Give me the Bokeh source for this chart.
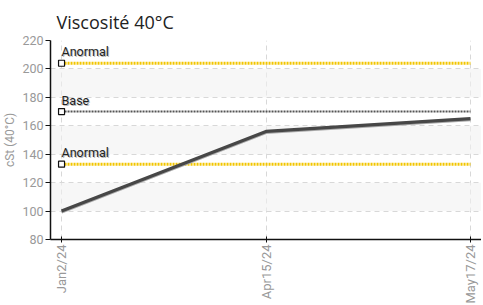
from bokeh.plotting import figure
from bokeh.embed import file_html
from bokeh.resources import INLINE
from bokeh.models import Range1d, FixedTicker, ColumnDataSource
from bokeh.core.properties import value

# data
dates = ["Jan2/24", "Apr15/24", "May17/24"]
viscosity = [100, 156, 165]
limit_names = ["Anormal", "Base", "Anormal"]
limit_values = [204, 170, 133]
limit_colors = ["#f2c500", "#555555", "#f2c500"]

FONT = "Roboto"

xs = list(range(len(dates)))

p = figure(frame_width=431, frame_height=199, output_backend="svg", toolbar_location=None,
           x_range=Range1d(-0.054, 2.054), y_range=Range1d(80, 220),
           title="Viscosité 40°C", min_border_left=44, min_border_right=0,
           min_border_top=0, min_border_bottom=0)
p.outline_line_color = None
p.title.text_font = "Open Sans"
p.title.text_font_size = "18px"
p.title.text_font_style = "normal"
p.title.text_color = "#222222"
p.title.offset = 6
p.title.standoff = 14

# grid
p.xgrid.grid_line_color = "#d8d8d8"
p.xgrid.grid_line_dash = "5 4"
p.ygrid.grid_line_color = "#d8d8d8"
p.ygrid.grid_line_dash = "5 4"
p.ygrid.band_fill_color = "#f2f2f2"
p.ygrid.band_fill_alpha = 0.6

# axes
p.xaxis.ticker = FixedTicker(ticks=xs)
p.xaxis.major_label_overrides = {i: d for i, d in enumerate(dates)}
p.xaxis.major_label_orientation = 1.5708
p.yaxis.ticker = FixedTicker(ticks=list(range(80, 221, 20)))
for ax in (p.xaxis, p.yaxis):
    ax.axis_line_color = "#111111"
    ax.axis_line_width = 1.5
    ax.major_tick_line_color = "#111111"
    ax.minor_tick_line_color = None
    ax.major_label_text_color = "#999999"
    ax.major_label_text_font = FONT
    ax.major_label_text_font_size = "13px"
    ax.major_label_standoff = 2
p.yaxis.major_label_text_font_size = "12.5px"
p.xaxis.major_tick_in = 3
p.xaxis.major_tick_out = 3
p.yaxis.major_tick_in = 0
p.yaxis.major_tick_out = 5
p.yaxis.axis_label = "cSt (40°C)"
p.yaxis.axis_label_text_font = FONT
p.yaxis.axis_label_text_font_size = "12px"
p.yaxis.axis_label_text_font_style = "normal"
p.yaxis.axis_label_text_color = "#999999"
p.yaxis.axis_label_standoff = 2

# limit lines
for name, v, c in zip(limit_names, limit_values, limit_colors):
    w = 3 if c == "#f2c500" else 2
    p.line([xs[0], xs[-1]], [v, v], line_color=c, line_width=w, line_dash="2 1")

src = ColumnDataSource(dict(x=[xs[0]] * len(limit_values), y=limit_values, t=limit_names))
p.scatter("x", "y", source=src, marker="square", size=6, fill_color="white",
          line_color="#111111", line_width=1.2)
p.text("x", "y", text="t", source=src, x_offset=1, y_offset=-3, text_font=value(FONT),
       text_font_size="12.5px", text_color="#bbbbbb", text_baseline="bottom", text_align="left")
p.text("x", "y", text="t", source=src, x_offset=0, y_offset=-4, text_font=value(FONT),
       text_font_size="12.5px", text_color="#222222", text_baseline="bottom", text_align="left")

# data line
p.line(xs, [v - 0.8 for v in viscosity], line_color="#aaaaaa", line_width=3)
p.line(xs, viscosity, line_color="#474747", line_width=3.2)

open("out.html", "w").write(file_html(p, INLINE))
